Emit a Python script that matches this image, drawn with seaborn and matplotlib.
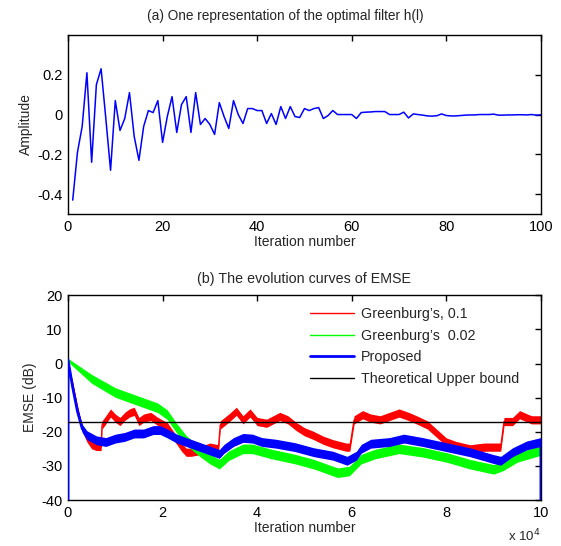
import numpy as np
import matplotlib
matplotlib.use("Agg")
import matplotlib.pyplot as plt
import seaborn as sns

sns.set_style("white")
plt.rcParams['font.family'] = ['Liberation Sans', 'DejaVu Sans']
plt.rcParams['font.size'] = 10

# (a) optimal filter taps h(l), l = 1..100
taps = np.arange(1, 101)
h_filter = [-0.43, -0.19, -0.06, 0.21, -0.24, 0.15, 0.23, -0.02, -0.28, 0.07,
            -0.08, -0.02, 0.11, -0.11, -0.23, -0.06, 0.02, 0.01, 0.07, -0.14,
            -0.01, 0.09, -0.09, 0.05, 0.09, -0.09, 0.11, -0.05, -0.02, -0.05,
            -0.10, 0.06, -0.01, -0.07, 0.07, 0.00, -0.045, 0.03, 0.03, 0.02,
            0.02, -0.045, 0.005, -0.05, 0.04, -0.02, 0.04, -0.01, -0.015, 0.03,
            0.02, 0.03, 0.035, -0.02, -0.005, 0.02, 0.0, 0.0, 0.0, 0.0,
            -0.02, 0.01, 0.012, 0.013, 0.015, 0.015, 0.015, 0.0, 0.0, 0.0,
            0.012, -0.017, 0.003, 0.0, -0.003, -0.007, -0.008, -0.006, 0.003, -0.005,
            -0.007, -0.007, -0.005, -0.003, -0.002, -0.002, 0.0, 0.0, 0.0, 0.002,
            -0.003, -0.003, -0.002, -0.002, -0.001, -0.001, -0.002, 0.0, -0.003, -0.002]

# (b) EMSE curves, iteration in units of 1e4, centre (dB) and noise half-width (dB)
red_x = [0, 0.1, 0.2, 0.3, 0.4, 0.5, 0.6, 0.7, 0.72, 0.8, 0.9, 1.0, 1.1, 1.2, 1.3, 1.4,
         1.5, 1.6, 1.75, 1.9, 2.1, 2.25, 2.4, 2.5, 2.6, 2.8, 3.0, 3.18, 3.22, 3.4, 3.56,
         3.7, 3.85, 4.0, 4.2, 4.48, 4.65, 4.83, 5.0, 5.18, 5.4, 5.6, 5.88, 5.96, 6.05,
         6.23, 6.4, 6.6, 6.8, 7.0, 7.2, 7.37, 7.6, 7.8, 8.0, 8.2, 8.5, 8.8, 9.0, 9.15,
         9.22, 9.4, 9.55, 9.8, 10.0]
red_c = [0, -6, -13, -19, -22, -24, -24.5, -24.5, -18, -16.5, -14.5, -16, -17, -15.5, -14.5, -14,
         -17, -16, -15.5, -17, -18.5, -21.5, -24.5, -26, -26, -25.5, -24.5, -25, -18, -16, -14,
         -16.5, -14.5, -17, -17.5, -15.5, -16.5, -18.5, -20, -21, -22.5, -23.5, -24.5, -24.5, -16.5,
         -15, -16, -16.5, -15.5, -14.5, -15.5, -16.5, -18, -20.5, -23, -24, -25, -24.5, -24.5, -24.5,
         -17, -17, -15, -16.5, -16.5]
red_s = [0.3, 0.5, 0.7, 0.8, 1.0, 1.0, 1.0, 1.0, 1.2, 1.2, 1.2, 1.2, 1.2, 1.2, 1.2, 1.2,
         1.2, 1.2, 1.2, 1.2, 1.2, 1.2, 1.2, 1.2, 1.2, 1.2, 1.2, 1.2, 1.2, 1.2, 1.2,
         1.2, 1.2, 1.2, 1.2, 1.2, 1.2, 1.2, 1.2, 1.2, 1.2, 1.2, 1.2, 1.2, 1.2,
         1.2, 1.2, 1.2, 1.2, 1.2, 1.2, 1.2, 1.2, 1.2, 1.2, 1.2, 1.2, 1.2, 1.2, 1.2,
         1.2, 1.2, 1.2, 1.2, 1.2]

green_x = [0, 0.5, 1.0, 1.5, 1.9, 2.1, 2.3, 2.5, 2.8, 3.0, 3.2, 3.4, 3.7, 3.9, 4.3, 4.8,
           5.2, 5.7, 5.95, 6.2, 6.5, 7.0, 7.5, 8.0, 8.5, 9.0, 9.2, 9.5, 10.0]
green_c = [1, -4.5, -8.5, -11, -13, -15, -19, -22.5, -26, -28, -29.5, -27, -25, -25, -26.5, -28,
           -29.5, -32, -31.5, -28, -26.5, -25, -26, -27.5, -29.5, -31, -30, -27.5, -25.5]
green_s = [0.5, 1.3, 1.4, 1.4, 1.4, 1.4, 1.4, 1.4, 1.4, 1.4, 1.4, 1.4, 1.4, 1.4, 1.4, 1.4,
           1.4, 1.4, 1.4, 1.4, 1.4, 1.4, 1.4, 1.4, 1.4, 1.4, 1.4, 1.4, 1.4]

blue_x = [0, 0, 0.1, 0.2, 0.3, 0.4, 0.6, 0.8, 1.0, 1.2, 1.4, 1.6, 1.8, 1.95, 2.1, 2.3,
          2.5, 2.8, 3.0, 3.2, 3.3, 3.5, 3.7, 3.9, 4.1, 4.4, 4.8, 5.2, 5.6, 5.9, 6.1,
          6.2, 6.4, 6.8, 7.1, 7.5, 8.0, 8.5, 9.0, 9.15, 9.4, 9.7, 10.0, 10.0]
blue_c = [-40, 1, -7, -14, -19, -21, -22.5, -23, -22, -21.5, -20.5, -20.5, -19.5, -19.5, -20.5, -22,
          -23, -24.5, -25.5, -26.5, -25, -23, -21.8, -22, -23, -23.5, -24.5, -26, -27, -28.5, -27,
          -25, -23.5, -23, -22, -23, -24.5, -26, -28, -28.5, -26, -24, -23, -40]
blue_s = [0, 0.3, 0.8, 1.0, 1.2, 1.3, 1.3, 1.3, 1.3, 1.3, 1.3, 1.3, 1.3, 1.3, 1.3, 1.3,
          1.3, 1.3, 1.3, 1.3, 1.3, 1.3, 1.3, 1.3, 1.3, 1.3, 1.3, 1.3, 1.3, 1.3, 1.3,
          1.3, 1.3, 1.3, 1.3, 1.3, 1.3, 1.3, 1.3, 1.3, 1.3, 1.3, 1.3, 0]

upper_bound = -17.0
labels = ["Greenburg\u2019s, 0.1", "Greenburg\u2019s  0.02", "Proposed", "Theoretical Upper bound"]

fig = plt.figure(figsize=(5.61, 5.46), dpi=100)
ax1 = fig.add_axes([0.1212, 0.608, 0.843, 0.328])
ax2 = fig.add_axes([0.1212, 0.0842, 0.843, 0.375])

sns.lineplot(x=taps, y=h_filter, ax=ax1, color="#0000FF", linewidth=1.1)
ax1.set_xlim(0, 100)
ax1.set_ylim(-0.5, 0.4)
ax1.set_xticks([0, 20, 40, 60, 80, 100])
ax1.set_yticks([-0.4, -0.2, 0, 0.2])
ax1.set_yticklabels(["-0.4", "-0.2", "0", "0.2"])
ax1.set_xlabel("Iteration number", labelpad=1)
ax1.set_ylabel("Amplitude", labelpad=3)
ax1.set_title("(a) One representation of the optimal filter h(l)", fontsize=9.8,
              pad=11, x=0.459)

series = [(red_x, red_c, red_s, "#FF0000", 1.0, 2),
          (green_x, green_c, green_s, "#00FF00", 1.0, 2.1),
          (blue_x, blue_c, blue_s, "#0000FF", 2.0, 3)]
for (xs, cs, ss, col, lw, z), lab in zip(series, labels[:3]):
    xs = np.array(xs)
    cs = np.array(cs)
    ss = np.array(ss)
    ax2.fill_between(xs, cs - ss, cs + ss, color=col, linewidth=0, zorder=z)
    sns.lineplot(x=xs, y=cs, ax=ax2, color=col, linewidth=lw, sort=False,
                 estimator=None, label=lab, zorder=z)
ax2.axhline(upper_bound, color="black", linewidth=1.0, label=labels[3], zorder=3.5)

ax2.set_xlim(0, 10)
ax2.set_ylim(-40, 20)
ax2.set_xticks([0, 2, 4, 6, 8, 10])
ax2.set_yticks([-40, -30, -20, -10, 0, 10, 20])
ax2.set_yticklabels(["-40", "-30", "-20", "-10", "0", "10", "20"])
ax2.set_xlabel("Iteration number", labelpad=1)
ax2.set_ylabel("EMSE (dB)", labelpad=3)
ax2.set_title("(b) The evolution curves of EMSE", fontsize=10.3, pad=9)
ax2.text(1.0, -0.175, "x 10$^4$", transform=ax2.transAxes, ha="right", va="center", fontsize=9.5)
ax2.legend(loc="upper right", frameon=False, fontsize=10.3, handlelength=3.1,
           handletextpad=0.45, labelspacing=0.52, borderaxespad=0.3,
           bbox_to_anchor=(0.975, 0.99))

for ax in (ax1, ax2):
    ax.tick_params(direction="in", top=True, right=True, length=4.5, width=1,
                   labelsize=10.5, pad=4, colors="black")
    for sp in ax.spines.values():
        sp.set_color("black")
        sp.set_linewidth(1.0)

fig.savefig("out.png", dpi=100, facecolor="white")
